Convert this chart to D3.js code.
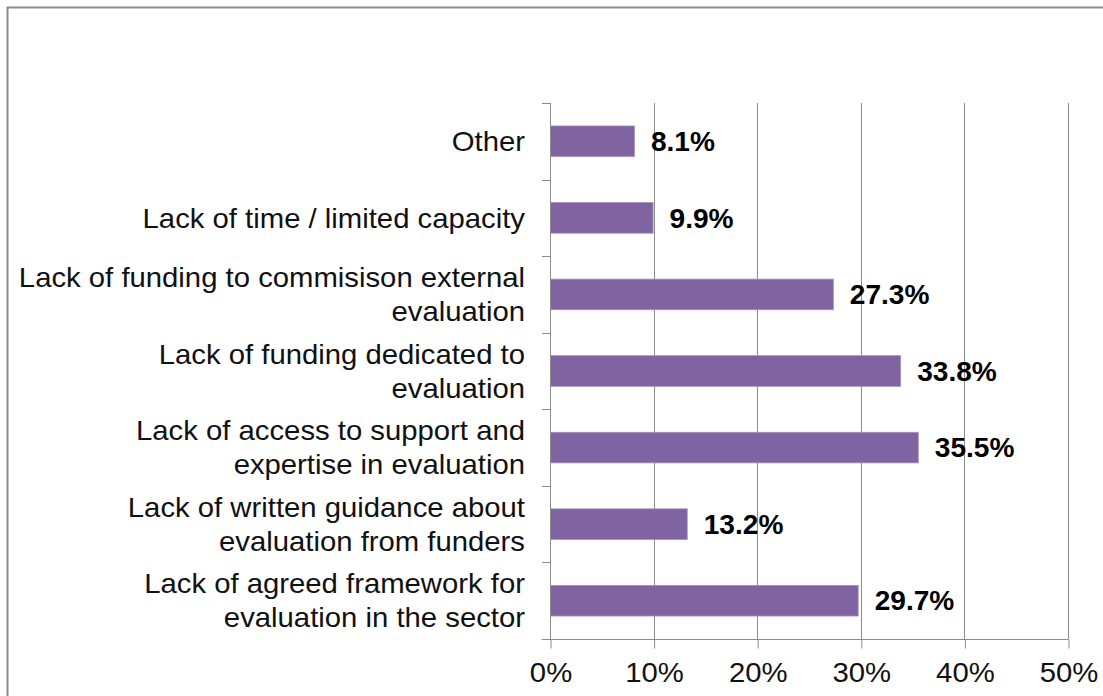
<!DOCTYPE html>
<html>
<head>
<meta charset="utf-8">
<script src="https://cdn.jsdelivr.net/npm/d3@7"></script>
<style>
  html, body { margin: 0; padding: 0; background: #fff; }
  svg { display: block; font-family: Arial, "Liberation Sans", sans-serif; }
</style>
</head>
<body>
<svg id="chart" width="1103" height="696"></svg>
<script>
// Barriers to evaluation, share of respondents (%)
const categories = [
  "Other",
  "Lack of time / limited capacity",
  "Lack of funding to commisison external\nevaluation",
  "Lack of funding dedicated to\nevaluation",
  "Lack of access to support and\nexpertise in evaluation",
  "Lack of written guidance about\nevaluation from funders",
  "Lack of agreed framework for\nevaluation in the sector"
];
const values = [8.1, 9.9, 27.3, 33.8, 35.5, 13.2, 29.7];
const xTicks = [0, 10, 20, 30, 40, 50];

const svg = d3.select("#chart");
const W = 1103, H = 696;
const plotL = 550, plotR = 1068, plotT = 103, plotB = 639;
const gridColor = "#8c8c8c";
const sxText = 1.085;   // slightly wide lettering
const sxBold = 1.04;

// outer frame
svg.append("rect")
  .attr("x", 7.5).attr("y", 7.5)
  .attr("width", W + 20).attr("height", H + 20)
  .attr("fill", "none").attr("stroke", "#8a8a8a").attr("stroke-width", 2);

const x = d3.scaleLinear().domain([0, 50]).range([plotL, plotR]);
const y = d3.scaleBand().domain(categories).range([plotT, plotB])
  .paddingInner(0.6).paddingOuter(0.3);

// vertical gridlines
svg.append("g").selectAll("line")
  .data(xTicks.slice(1))
  .join("line")
  .attr("x1", d => Math.round(x(d)) + 0.5).attr("x2", d => Math.round(x(d)) + 0.5)
  .attr("y1", plotT).attr("y2", plotB)
  .attr("stroke", gridColor).attr("stroke-width", 1);

// bars
svg.append("g").selectAll("rect")
  .data(values)
  .join("rect")
  .attr("x", x(0) + 0.5)
  .attr("y", (d, i) => y(categories[i]))
  .attr("width", d => x(d) - x(0))
  .attr("height", y.bandwidth())
  .attr("fill", "#8064a2")
  .attr("stroke", "#a48fc0").attr("stroke-width", 0.8);

// x axis
const xAxis = d3.axisBottom(x).tickValues(xTicks)
  .tickFormat(d => d + "%").tickSize(9).tickSizeOuter(0).tickPadding(14);
const gx = svg.append("g").attr("transform", `translate(0.5,${plotB + 0.5})`).call(xAxis);
gx.select(".domain").attr("stroke", gridColor).attr("d", `M${plotL - 9},0H${plotR}`);
gx.selectAll(".tick line").attr("stroke", gridColor);
gx.selectAll(".tick text").attr("fill", "#111").style("font-size", "27px")
  .attr("dy", "0.71em")
  .attr("transform", `scale(${sxText},1)`);

// y axis with category ticks at band boundaries
const gy = svg.append("g");
gy.append("line")
  .attr("x1", plotL + 0.5).attr("x2", plotL + 0.5)
  .attr("y1", plotT).attr("y2", plotB)
  .attr("stroke", gridColor);
const bounds = d3.range(categories.length + 1).map(i => plotT + i * y.step());
gy.selectAll("line.tk")
  .data(bounds)
  .join("line").attr("class", "tk")
  .attr("x1", plotL - 8).attr("x2", plotL + 0.5)
  .attr("y1", d => Math.round(d) + 0.5).attr("y2", d => Math.round(d) + 0.5)
  .attr("stroke", gridColor);

// category labels, right-aligned, wrapped on explicit breaks
const lineH = 34;
svg.append("g").selectAll("text")
  .data(categories)
  .join("text")
  .attr("text-anchor", "end")
  .attr("fill", "#111")
  .style("font-size", "27px")
  .attr("transform", d => `translate(525,${y(d) + y.bandwidth() / 2}) scale(${sxText},1)`)
  .each(function (d) {
    const lines = d.split("\n");
    const t = d3.select(this);
    lines.forEach((ln, k) => {
      t.append("tspan")
        .attr("x", 0)
        .attr("y", (k - (lines.length - 1) / 2) * lineH)
        .attr("dy", "0.36em")
        .text(ln);
    });
  });

// value labels
svg.append("g").selectAll("text")
  .data(values)
  .join("text")
  .attr("transform", (d, i) => `translate(${x(d) + 17},${y(categories[i]) + y.bandwidth() / 2}) scale(${sxBold},1)`)
  .attr("dy", "0.36em")
  .attr("fill", "#000")
  .style("font-size", "27px")
  .style("font-weight", "bold")
  .text(d => d.toFixed(1) + "%");
</script>
</body>
</html>
